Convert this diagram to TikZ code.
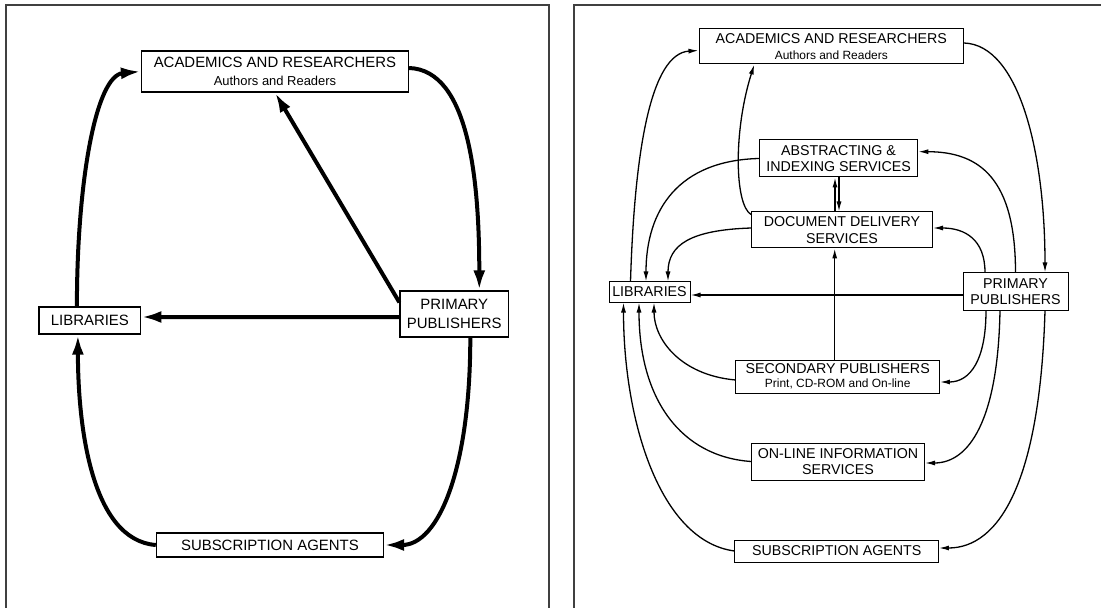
\documentclass[tikz,border=0pt]{standalone}
\usepackage{fontspec}
\setmainfont{Liberation Sans}
\usetikzlibrary{arrows.meta}
\begin{document}
\begin{tikzpicture}[x=1bp,y=-1bp]
\tikzset{
  frameline/.style={draw=black!75, line width=1.4bp},
  lbox/.style={draw, line width=1.2bp, inner sep=0pt, align=center, font=\fontsize{15}{19}\selectfont},
  rbox/.style={draw, line width=1bp, inner sep=0pt, align=center, font=\fontsize{14.3}{16.5}\selectfont},
  larr/.style={line width=4bp, -{Latex[length=20bp,width=12bp]}},
  rarr/.style={line width=1.3bp, -{Latex[length=10bp,width=5bp]}},
}
\useasboundingbox (0,0) rectangle (1101,608);
% panel frames
\draw[frameline] (6,608) -- (6,5) -- (549,5) -- (549,608);
\draw[frameline] (574,608) -- (574,5) -- (1101,5);

% ---------- left panel ----------
\node[lbox, minimum width=267bp, minimum height=41bp] (la) at (275,71.5)
  {ACADEMICS AND RESEARCHERS\\[-1bp]{\fontsize{13}{15}\selectfont Authors and Readers}};
\node[lbox, minimum width=108.6bp, minimum height=46bp] (lp) at (454.3,314) {PRIMARY\\PUBLISHERS};
\node[lbox, minimum width=101.7bp, minimum height=27bp] (ll) at (89.9,320.5) {LIBRARIES};
\node[lbox, minimum width=227bp, minimum height=24bp] (ls) at (269.9,545) {SUBSCRIPTION AGENTS};

\draw[larr] ([xshift=-13bp]ll.north) .. controls +(0,-125) and +(-45,4) .. (la.west);
\draw[larr] ([yshift=3.5bp]la.east) .. controls +(60,2) and +(0,-110) .. ([xshift=25bp]lp.north);
\draw[larr] ([yshift=-12bp]lp.north west) -- (la.south);
\draw[larr] ([yshift=-3bp]lp.west) -- ([yshift=3.5bp]ll.east);
\draw[larr] ([xshift=16bp]lp.south) .. controls +(0,130) and +(55,0) .. (ls.east);
\draw[larr] (ls.west) .. controls +(-65,-5) and +(0,90) .. ([xshift=-12bp]ll.south);

% ---------- right panel ----------
\node[rbox, minimum width=264.6bp, minimum height=35bp] (ra) at (831.3,46.5)
  {ACADEMICS AND RESEARCHERS\\[-1bp]{\fontsize{12}{14}\selectfont Authors and Readers}};
\node[rbox, minimum width=158.4bp, minimum height=37bp] (rai) at (838.6,158.5) {ABSTRACTING \&\\INDEXING SERVICES};
\node[rbox, minimum width=181bp, minimum height=36bp] (rdd) at (842,230) {DOCUMENT DELIVERY\\SERVICES};
\node[rbox, minimum width=81bp, minimum height=20bp] (rl) at (649.5,292) {LIBRARIES};
\node[rbox, minimum width=105bp, minimum height=37bp] (rp) at (1015.5,291.5) {PRIMARY\\PUBLISHERS};
\node[rbox, minimum width=203.5bp, minimum height=33bp] (rsp) at (837.7,376.5)
  {SECONDARY PUBLISHERS\\[-2bp]{\fontsize{12}{13}\selectfont Print, CD-ROM and On-line}};
\node[rbox, minimum width=173bp, minimum height=37bp] (rol) at (838,461.5) {ON-LINE INFORMATION\\SERVICES};
\node[rbox, minimum width=203.5bp, minimum height=22bp] (rsa) at (836.7,551) {SUBSCRIPTION AGENTS};

\draw[rarr] ([xshift=-19bp]rl.north) .. controls +(4,-130) and +(-48,3) .. ([yshift=-4bp]ra.west);
\draw[rarr] ([yshift=3.5bp]ra.east) .. controls +(55,2) and +(0,-120) .. ([xshift=29.5bp]rp.north);
\draw[rarr] ([yshift=-3bp]rdd.north west) .. controls +(-16.5,-10) and +(-21,66) .. ([xshift=-77bp]ra.south);
\draw[rarr] (rai.west) .. controls +(-80,2) and +(0,-72) .. ([xshift=-3.5bp]rl.north);
\draw[rarr] ([yshift=2bp]rdd.west) .. controls +(-60,2) and +(0,-37) .. ([xshift=18.5bp]rl.north);
\draw[rarr] ([yshift=-3.5bp]rp.west) -- ([yshift=-3bp]rl.east);
\draw[rarr] (rp.north) .. controls +(0,-93) and +(62,0) .. ([yshift=6.8bp]rai.east);
\draw[rarr] ([xshift=-30.5bp]rp.north) .. controls +(0,-33) and +(32,0) .. ([yshift=2bp]rdd.east);
\draw[rarr] ([xshift=-7bp]rdd.north) -- ([xshift=-7bp]rdd.north |- rai.south);
\draw[rarr] ([xshift=-3bp]rdd.north |- rai.south) -- ([xshift=-3bp]rdd.north);
\draw[rarr] ([xshift=-3bp]rsp.north) -- ([xshift=-3bp]rsp.north |- rdd.south);
\draw[rarr] ([yshift=-3.5bp]rsp.west) .. controls +(-55,-5) and +(0,37) .. ([xshift=4.5bp]rl.south);
\draw[rarr] ([xshift=-29.5bp]rp.south) .. controls +(0,50) and +(30,0) .. ([yshift=-5.5bp]rsp.east);
\draw[rarr] (rol.west) .. controls +(-70,-5) and +(0,97) .. ([xshift=-10.5bp]rl.south);
\draw[rarr] ([xshift=-15.5bp]rp.south) .. controls +(-2,110) and +(44,0) .. ([yshift=-1.5bp]rol.east);
\draw[rarr] (rsa.west) .. controls +(-75,-10) and +(0,117) .. ([xshift=-26bp]rl.south);
\draw[rarr] ([xshift=29.5bp]rp.south) .. controls +(-5,170) and +(61,0) .. ([yshift=3bp]rsa.east);
\end{tikzpicture}
\end{document}
